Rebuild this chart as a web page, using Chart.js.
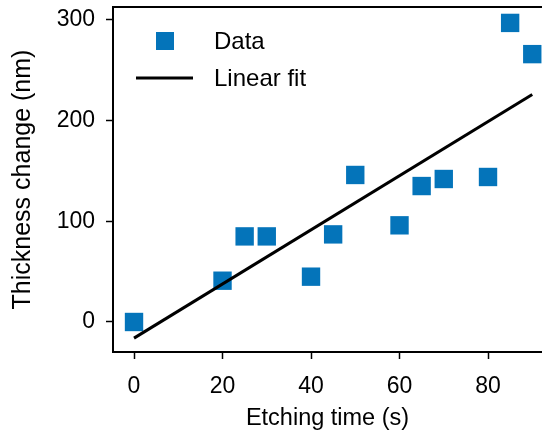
<!DOCTYPE html>
<html>
<head>
<meta charset="utf-8">
<script src="https://cdn.jsdelivr.net/npm/chart.js@4"></script>
<style>
  html, body { margin: 0; padding: 0; background: #fff; overflow: hidden; }
  #wrap { width: 542px; height: 434px; position: relative; }
</style>
</head>
<body>
<div id="wrap"><canvas id="thickness-chart"></canvas></div>
<script>
// Data
const etchTime = [0, 20, 25, 30, 40, 45, 50, 60, 65, 70, 80, 85, 90];
const thicknessChange = [0, 41, 85, 85, 45, 87, 146, 96, 135, 142, 144, 297, 266];
const fitTime = [0, 90];
const fitThickness = [-16, 226];
const xTicks = [0, 20, 40, 60, 80];
const yTicks = [0, 100, 200, 300];

const FONT = "'Liberation Sans', Arial, sans-serif";
const blue = "#0474BA";

// top spine + legend drawn on the canvas
const framePlugin = {
    id: "frame",
    afterDraw(chart) {
        const { ctx, chartArea } = chart;
        ctx.save();
        ctx.strokeStyle = "#000";
        ctx.lineWidth = 2;
        ctx.beginPath();
        ctx.moveTo(chartArea.left - 1, chartArea.top);
        ctx.lineTo(chartArea.right + 2, chartArea.top);
        ctx.stroke();

        // legend
        ctx.fillStyle = blue;
        ctx.fillRect(156, 32, 18, 18);
        ctx.lineWidth = 3;
        ctx.beginPath();
        ctx.moveTo(136, 78);
        ctx.lineTo(193, 78);
        ctx.stroke();
        ctx.fillStyle = "#000";
        ctx.font = "24px " + FONT;
        ctx.textBaseline = "middle";
        ctx.fillText("Data", 214, 42);
        ctx.fillText("Linear fit", 214, 79);
        ctx.restore();
    },
};

const ctx = document.getElementById("thickness-chart").getContext("2d");
new Chart(ctx, {
    type: "scatter",
    data: {
        datasets: [
            {
                label: "Data",
                data: etchTime.map((t, i) => ({ x: t, y: thicknessChange[i] })),
                pointStyle: "rect",
                pointRadius: 13,
                pointHoverRadius: 13,
                backgroundColor: blue,
                borderWidth: 0,
                clip: false,
                order: 2,
            },
            {
                label: "Linear fit",
                type: "line",
                data: fitTime.map((t, i) => ({ x: t, y: fitThickness[i] })),
                borderColor: "#000",
                borderWidth: 3,
                pointRadius: 0,
                fill: false,
                order: 1,
            },
        ],
    },
    options: {
        responsive: true,
        maintainAspectRatio: false,
        animation: false,
        layout: { autoPadding: false, padding: { top: 7, right: 0, left: 0, bottom: 0 } },
        plugins: {
            legend: { display: false },
            tooltip: { enabled: false },
        },
        scales: {
            x: {
                type: "linear",
                min: -4.75,
                max: 92.2,
                afterBuildTicks: (s) => { s.ticks = xTicks.map((v) => ({ value: v })); },
                afterFit: (s) => {
                    s.height = 82;
                    s.paddingLeft = 0;
                    s.paddingRight = 0;
                },
                grid: {
                    drawOnChartArea: false,
                    drawTicks: true,
                    tickLength: 7,
                    tickWidth: 1.5,
                    tickColor: "#000",
                },
                border: { display: true, color: "#000", width: 2 },
                ticks: {
                    color: "#000",
                    font: { family: FONT, size: 23 },
                    padding: 14,
                    maxRotation: 0,
                },
                title: {
                    display: true,
                    text: "Etching time (s)",
                    color: "#000",
                    font: { family: FONT, size: 23.5 },
                    padding: { top: 0, bottom: 1 },
                },
            },
            y: {
                type: "linear",
                min: -29.8,
                max: 312.8,
                afterBuildTicks: (s) => { s.ticks = yTicks.map((v) => ({ value: v })); },
                afterFit: (s) => {
                    s.width = 113;
                    s.paddingTop = 0;
                    s.paddingBottom = 0;
                },
                grid: {
                    drawOnChartArea: false,
                    drawTicks: true,
                    tickLength: 7,
                    tickWidth: 1.5,
                    tickColor: "#000",
                },
                border: { display: true, color: "#000", width: 2 },
                ticks: {
                    color: "#000",
                    font: { family: FONT, size: 23 },
                    padding: 11,
                },
                title: {
                    display: true,
                    text: "Thickness change (nm)",
                    color: "#000",
                    font: { family: FONT, size: 25 },
                    padding: { top: 8, bottom: 4 },
                },
            },
        },
    },
    plugins: [framePlugin],
});
</script>
</body>
</html>
